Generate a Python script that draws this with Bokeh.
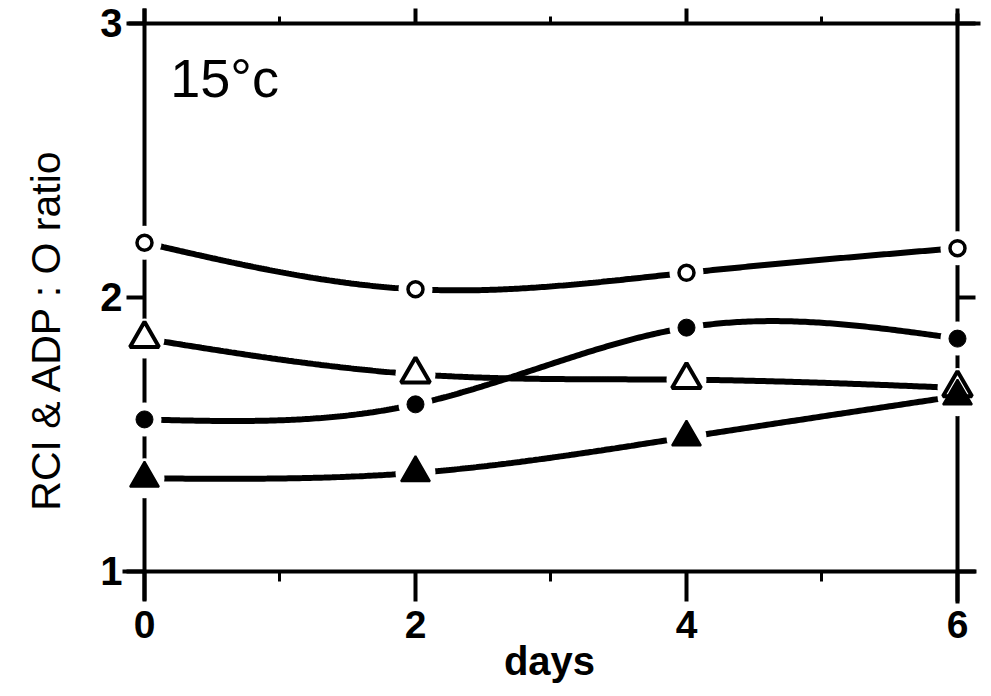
import numpy as np
from bokeh.plotting import figure
from bokeh.models import Range1d, LinearAxis, FixedTicker, Label
from bokeh.embed import file_html
from bokeh.resources import INLINE

# ---- data ----
days = [0, 2, 4, 6]
open_circles = [2.20, 2.03, 2.09, 2.18]
filled_circles = [1.555, 1.61, 1.89, 1.85]
open_triangles = [1.85, 1.72, 1.70, 1.67]
filled_triangles = [1.34, 1.36, 1.49, 1.64]

x_ticks = [0, 2, 4, 6]
x_minor_ticks = [1, 3, 5]
y_ticks = [1, 2, 3]
x_label = "days"
y_label = "RCI & ADP : O ratio"
panel_text = "15°c"


def natural_spline(xs, ys, n=300):
    xs = np.asarray(xs, float)
    ys = np.asarray(ys, float)
    k = len(xs)
    h = np.diff(xs)
    A = np.zeros((k, k))
    b = np.zeros(k)
    A[0, 0] = 1
    A[-1, -1] = 1
    for i in range(1, k - 1):
        A[i, i - 1] = h[i - 1]
        A[i, i] = 2 * (h[i - 1] + h[i])
        A[i, i + 1] = h[i]
        b[i] = 6 * ((ys[i + 1] - ys[i]) / h[i] - (ys[i] - ys[i - 1]) / h[i - 1])
    M = np.linalg.solve(A, b)
    xx = np.linspace(xs[0], xs[-1], n)
    idx = np.clip(np.searchsorted(xs, xx, side="right") - 1, 0, k - 2)
    x0 = xs[idx]
    x1 = xs[idx + 1]
    hh = x1 - x0
    yy = ((M[idx] * (x1 - xx) ** 3 + M[idx + 1] * (xx - x0) ** 3) / (6 * hh)
          + (ys[idx] / hh - M[idx] * hh / 6) * (x1 - xx)
          + (ys[idx + 1] / hh - M[idx + 1] * hh / 6) * (xx - x0))
    return xx, yy


p = figure(width=991, height=696, output_backend="svg", toolbar_location=None,
           x_range=Range1d(-1.0627, 6.251), y_range=Range1d(0.5438, 3.0839),
           min_border=0, min_border_left=0, min_border_right=0,
           min_border_top=0, min_border_bottom=0)
p.outline_line_color = None
p.background_fill_color = "white"
p.border_fill_color = "white"
p.xgrid.visible = False
p.ygrid.visible = False

FONT = "Liberation Sans"


def style_axis(ax, tick_out, minor_out, show_labels, font_size):
    ax.axis_line_width = 4
    ax.axis_line_color = "black"
    ax.major_tick_line_width = 4
    ax.major_tick_line_color = "black"
    ax.major_tick_in = 0
    ax.major_tick_out = tick_out
    ax.minor_tick_line_width = 3
    ax.minor_tick_line_color = "black"
    ax.minor_tick_in = 0
    ax.minor_tick_out = minor_out
    ax.major_label_text_font = FONT
    ax.major_label_text_font_style = "bold"
    ax.major_label_text_font_size = font_size
    ax.major_label_text_color = "black" if show_labels else None


# bottom axis
xb = p.xaxis[0]
xb.ticker = FixedTicker(ticks=x_ticks, minor_ticks=x_minor_ticks)
xb.fixed_location = 1
xb.bounds = (-0.16, 6.14)
style_axis(xb, 30, 10, True, "39px")
xb.major_label_standoff = 10
xb.axis_label = x_label
xb.axis_label_text_font = FONT
xb.axis_label_text_font_style = "bold"
xb.axis_label_text_font_size = "40px"
xb.axis_label_text_color = "black"
xb.axis_label_standoff = -3

# left axis
yl = p.yaxis[0]
yl.ticker = FixedTicker(ticks=y_ticks, minor_ticks=[])
yl.fixed_location = 0
yl.bounds = (0.895, 3.055)
style_axis(yl, 18, 0, True, "40px")
yl.major_label_standoff = 4

# top axis
xt = LinearAxis(ticker=FixedTicker(ticks=x_ticks, minor_ticks=x_minor_ticks))
xt.fixed_location = 3
xt.bounds = (-0.12, 6.17)
style_axis(xt, 15, 7, False, "10px")
p.add_layout(xt, "above")

# right axis
yr = LinearAxis(ticker=FixedTicker(ticks=y_ticks, minor_ticks=[]))
yr.fixed_location = 6
yr.bounds = (0.885, 3.035)
style_axis(yr, 18, 0, False, "10px")
p.add_layout(yr, "right")

# smooth curves
for series in (open_circles, filled_circles, open_triangles, filled_triangles):
    xx, yy = natural_spline(days, series)
    p.line(xx, yy, line_color="black", line_width=6, line_cap="round")

# white gaps around markers
for series in (open_circles, filled_circles):
    p.scatter(days, series, marker="circle", size=34, fill_color="white",
              line_color=None, level="overlay")
for series in (open_triangles, filled_triangles):
    p.scatter(days, series, marker="circle", size=40, fill_color="white",
              line_color=None, level="overlay")

# markers
p.scatter(days, open_circles, marker="circle", size=15, fill_color="white",
          line_color="black", line_width=3.5, level="overlay")
p.scatter(days, filled_circles, marker="circle", size=17, fill_color="black",
          line_color="black", line_width=1, level="overlay")
p.scatter(days, open_triangles, marker="triangle", size=29, fill_color="white",
          line_color="black", line_width=4, level="overlay")
p.scatter(days, filled_triangles, marker="triangle", size=29, fill_color="black",
          line_color="black", line_width=2, level="overlay")

# texts
p.add_layout(Label(x=-0.73, y=1.883, text=y_label, angle=np.pi / 2,
                   text_align="center", text_baseline="middle",
                   text_font=FONT, text_font_size="41px", text_color="black"))
p.add_layout(Label(x=0.19, y=2.80, text=panel_text, text_align="left",
                   text_baseline="alphabetic", text_font=FONT,
                   text_font_size="54px", text_color="black"))

open("out.html", "w").write(file_html(p, INLINE))
